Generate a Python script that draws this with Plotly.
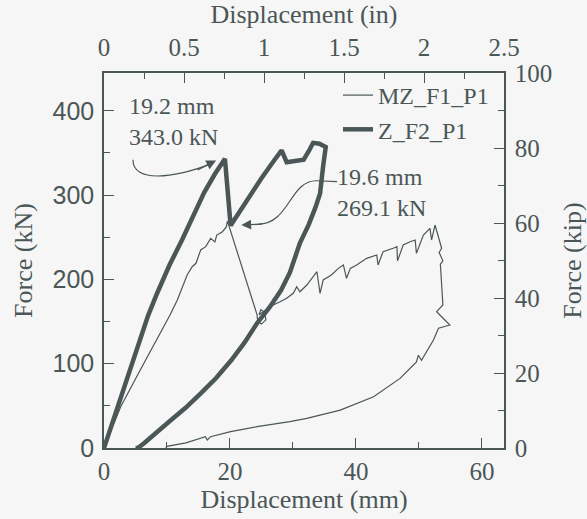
import plotly.graph_objects as go

# ---- data ----
z_x = [0, 1.4, 2.8, 4.2, 5.7, 7.0, 8.4, 10.4, 12.4, 14.2, 15.9, 17.6, 19.2,
       20.1, 22.5, 25.0, 27.0, 28.2, 29.0, 30.2, 31.7, 32.5, 33.2, 34.2, 35.2,
       34.8, 34.3, 33.6, 32.5, 31.1, 29.5, 28.1, 26.3, 24.3, 22.3, 20.2, 17.8,
       15.4, 13.0, 10.6, 8.4, 6.4, 5.4, 5.0]
z_y = [0, 32, 65, 97, 129, 157, 183, 217, 247, 276, 303, 325, 343,
       264, 292, 320, 341, 353, 339, 340, 342, 352, 362, 361, 357,
       335, 302, 286, 265, 243, 208, 187, 167, 148, 125, 104, 83,
       65, 48, 33, 18, 6, 0, 0]

mz_x = [0, 1.3, 2.65, 5.5, 8.4, 10.5, 11.64, 12.43, 13.2, 14.0, 14.6, 15.35,
        16.15, 16.94, 17.6, 17.9, 18.8, 19.4, 19.6,
        24.3, 24.4, 25.0, 25.7, 25.5, 24.9, 24.6, 25.5, 26.7, 27.94, 29.0,
        30.05, 30.6, 31.1, 32.2, 33.0, 33.8, 34.3, 34.8, 36.1, 37.2, 38.0,
        38.5, 39.1, 40.1, 41.7, 43.3, 43.5, 44.3, 45.9, 46.5, 46.6, 47.5,
        48.6, 49.4, 49.6, 50.7, 51.75, 52.0, 52.55, 53.6, 53.2, 53.5, 53.8,
        53.4, 53.6, 53.8, 52.8, 54.9, 53.1, 52.3, 50.4, 49.9, 49.6, 47.0,
        42.8, 37.5, 32.2, 29.5, 24.3, 20.1, 16.9, 16.4, 16.1, 13.0, 10.0, 9.8]
mz_y = [0, 25, 49, 89, 128, 158, 175.5, 191.3, 205.2, 215, 219.1, 234.9,
        238.8, 248.7, 244.4, 252.6, 256.6, 262, 269.1,
        158, 150, 147, 152, 161, 164, 158, 163, 169, 173.5, 177.6,
        183.5, 191.3, 185.4, 193.3, 201.3, 209.1, 183.5, 199.3, 205.2, 213.1, 217.1,
        201.3, 213.1, 217.1, 225, 228.9, 217.1, 232.8, 236.9, 238.8, 222, 240.8,
        244.7, 246.7, 230.9, 252.6, 260.6, 246.7, 264.5, 236.9, 232, 226, 222,
        218, 197.3, 169.6, 161.7, 145.9, 142, 128, 104, 110, 102, 82.6,
        60.8, 45, 35.2, 31.2, 25.3, 19.4, 13.4, 9.5, 13.4, 6, 2, 0]

names = ["MZ_F1_P1", "Z_F2_P1"]
x_mm_range = [0, 63.5]
x_in_range = [0, 2.5]
y_kn_range = [0, 444.82]
y_kip_range = [0, 100]

C = "#4b5656"
BG = "#f6f6f6"
SERIF = "Liberation Serif"
SANS = "Liberation Sans"
TICK = 25
TITLE = 26
TXT = 24

fig = go.Figure()
fig.add_trace(go.Scatter(x=mz_x, y=mz_y, mode="lines", name=names[0],
                         line=dict(color=C, width=1.2)))
fig.add_trace(go.Scatter(x=z_x, y=z_y, mode="lines", name=names[1],
                         line=dict(color=C, width=4.5)))

axcommon = dict(showline=True, linecolor=C, linewidth=1.5, ticks="inside",
                tickcolor=C, ticklen=10, tickwidth=1.2, showgrid=False,
                zeroline=False, color=C, automargin=False)

fig.update_layout(
    width=587, height=519,
    margin=dict(l=104, r=83, t=73, b=71),
    paper_bgcolor=BG, plot_bgcolor=BG,
    font=dict(family=SERIF, size=TICK, color=C),
    showlegend=True,
    legend=dict(x=0.975, y=1.0, xanchor="right", yanchor="top",
                bgcolor="rgba(0,0,0,0)", font=dict(family=SERIF, size=TXT, color=C),
                itemwidth=30),
    xaxis=dict(range=x_mm_range, tickvals=[0, 20, 40, 60],
               minor=dict(dtick=10, ticklen=6, ticks="inside", tickcolor=C),
               title=dict(text="Displacement (mm)", font=dict(size=TITLE), standoff=2),
               tickfont=dict(family=SERIF, size=TICK), **axcommon),
    xaxis2=dict(range=x_in_range, overlaying="x", side="top", dtick=0.5,
                minor=dict(dtick=0.25, ticklen=6, ticks="inside", tickcolor=C),
                ticklabelstandoff=5,
                title=dict(text="Displacement (in)", font=dict(size=TITLE), standoff=23),
                tickfont=dict(family=SERIF, size=TICK), **axcommon),
    yaxis=dict(range=y_kn_range, tickvals=[0, 100, 200, 300, 400],
               minor=dict(dtick=50, ticklen=6, ticks="inside", tickcolor=C),
               ticklabelstandoff=3,
               title=dict(text="Force (kN)", font=dict(size=TITLE), standoff=12),
               tickfont=dict(family=SANS, size=TICK), **axcommon),
    yaxis2=dict(range=y_kip_range, overlaying="y", side="right", dtick=20,
                minor=dict(dtick=10, ticklen=6, ticks="inside", tickcolor=C),
                ticklabelstandoff=4,
                title=dict(text="Force (kip)", font=dict(size=TITLE), standoff=17),
                tickfont=dict(family=SERIF, size=TICK), **axcommon),
)

# invisible trace so the secondary axes are active
fig.add_trace(go.Scatter(x=x_in_range, y=y_kip_range, xaxis="x2", yaxis="y2",
                         mode="none", showlegend=False, hoverinfo="skip"))

# annotations
fig.add_annotation(x=3.7, y=387, xref="x", yref="y", text="19.2 mm<br>343.0 kN",
                   showarrow=False, xanchor="left", yanchor="middle", align="left",
                   font=dict(family=SERIF, size=TXT, color=C))
fig.add_annotation(x=36.7, y=303, xref="x", yref="y", text="19.6 mm<br>269.1 kN",
                   showarrow=False, xanchor="left", yanchor="middle", align="left",
                   font=dict(family=SERIF, size=TXT, color=C))

fig.add_shape(type="path", xref="x", yref="y",
              path="M 4.6,342 C 4.6,314 11,320 17.0,337",
              line=dict(color=C, width=1.2))
fig.add_annotation(x=17.8, y=341, ax=-20, ay=10, xref="x", yref="y",
                   axref="pixel", ayref="pixel", text="", showarrow=True,
                   arrowhead=2, arrowsize=1.4, arrowwidth=1.4, arrowcolor=C)

fig.add_shape(type="path", xref="x", yref="y",
              path="M 37.0,316 L 33.8,317 C 29.5,318 29.5,266 24.5,265.5",
              line=dict(color=C, width=1.2))
fig.add_annotation(x=21.8, y=264.5, ax=22, ay=-1, xref="x", yref="y",
                   axref="pixel", ayref="pixel", text="", showarrow=True,
                   arrowhead=2, arrowsize=1.4, arrowwidth=1.4, arrowcolor=C)

fig.write_html(
    "out.html",
    config={"displayModeBar": False},
    post_script="document.body.style.margin='0px';"
                "document.body.style.backgroundColor='#f6f6f6';",
)
